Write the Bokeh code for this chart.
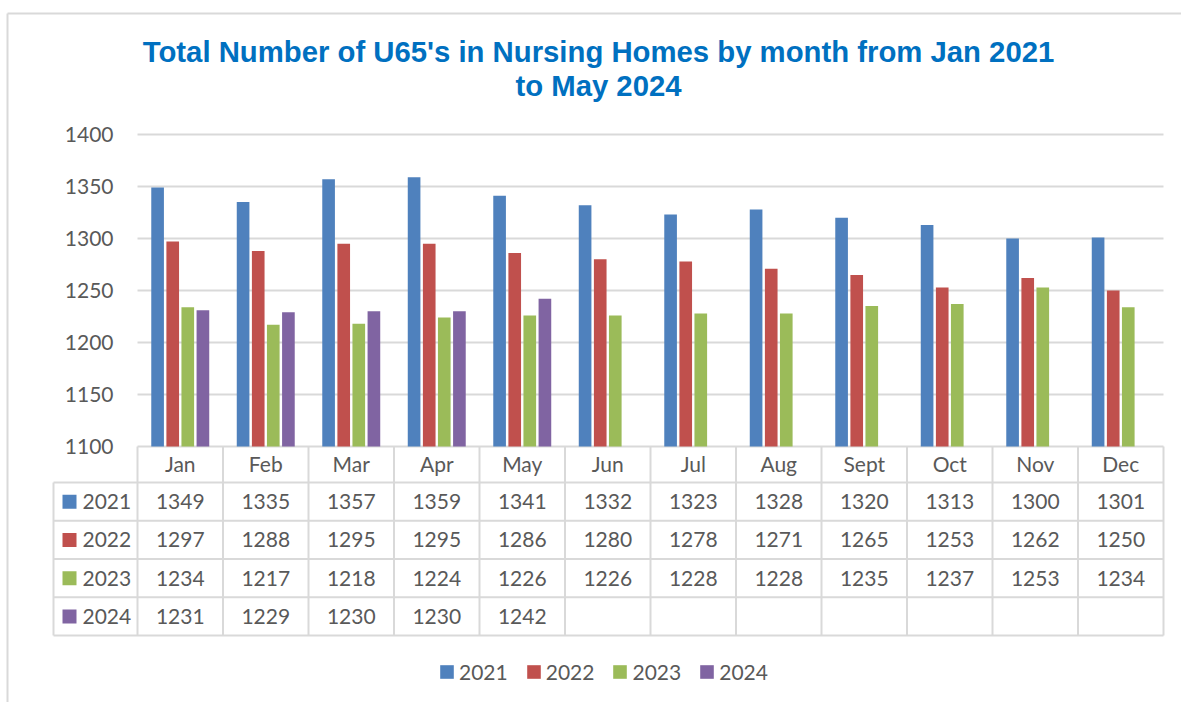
from bokeh.plotting import figure
from bokeh.models import Range1d, ColumnDataSource, Legend, LegendItem
from bokeh.embed import file_html
from bokeh.resources import INLINE
from bokeh.core.properties import value

# ---------------- data ----------------
months = ["Jan", "Feb", "Mar", "Apr", "May", "Jun", "Jul", "Aug", "Sept", "Oct", "Nov", "Dec"]
years = ["2021", "2022", "2023", "2024"]
v2021 = [1349, 1335, 1357, 1359, 1341, 1332, 1323, 1328, 1320, 1313, 1300, 1301]
v2022 = [1297, 1288, 1295, 1295, 1286, 1280, 1278, 1271, 1265, 1253, 1262, 1250]
v2023 = [1234, 1217, 1218, 1224, 1226, 1226, 1228, 1228, 1235, 1237, 1253, 1234]
v2024 = [1231, 1229, 1230, 1230, 1242]
y_ticks = [1100, 1150, 1200, 1250, 1300, 1350, 1400]
title_text = "Total Number of U65's in Nursing Homes by month from Jan 2021\nto May 2024"

series = [v2021, v2022, v2023, v2024]
colors = ["#4F81BD", "#C0504D", "#9BBB59", "#8064A2"]

# ---------------- layout constants (pixels) ----------------
W, H = 1181, 702
PLOT_L, PLOT_R = 137, 1163
PLOT_T, PLOT_B = 134, 446
n = len(months)
CAT_W = (PLOT_R - PLOT_L) / n
PX_PER_UNIT = (PLOT_B - PLOT_T) / (y_ticks[-1] - y_ticks[0])
FONT = "Lato"
FS = "21px"
TXT = "#595959"
LINE = "#D9D9D9"

p = figure(width=W, height=H,
           x_range=Range1d(-PLOT_L / CAT_W, n + (W - PLOT_R) / CAT_W),
           y_range=Range1d(y_ticks[0] - (H - PLOT_B) / PX_PER_UNIT,
                           y_ticks[-1] + PLOT_T / PX_PER_UNIT),
           title=None, x_axis_location=None, y_axis_location=None,
           output_backend="svg", toolbar_location=None, min_border=0)
p.extra_x_ranges = {"px": Range1d(0, W)}
p.extra_y_ranges = {"px": Range1d(H, 0)}
p.outline_line_color = None
p.background_fill_color = "#FFFFFF"
p.border_fill_color = "#FFFFFF"
p.xgrid.visible = False
p.ygrid.visible = False

# outer chart border
p.segment(x0=[7, 7], y0=[13, 13], x1=[W, 7], y1=[13, H], x_range_name="px",
          y_range_name="px", line_color=LINE, line_width=2)

# title
p.text(x=[598] * 2, y=[51, 85], text=title_text.split("\n"), x_range_name="px",
       y_range_name="px", text_align="center", text_baseline="middle",
       text_font=value("Liberation Sans"), text_font_size="29.3px",
       text_font_style="bold", text_color="#0070C0")

# value grid lines and tick labels
p.segment(x0=[0] * len(y_ticks), y0=y_ticks, x1=[n] * len(y_ticks), y1=y_ticks,
          line_color=LINE, line_width=2)
p.text(x=[113] * len(y_ticks), y=y_ticks, text=[str(t) for t in y_ticks],
       x_range_name="px", text_align="right", text_baseline="middle",
       text_font=value(FONT), text_font_size=FS, text_color=TXT)

# bars
offsets = [-0.265, -0.088, 0.088, 0.265]
for vals, c, off in zip(series, colors, offsets):
    src = ColumnDataSource(dict(x=[i + 0.5 + off for i in range(len(vals))], value=vals))
    p.vbar(x="x", top="value", bottom=y_ticks[0], width=0.148, fill_color=c,
           line_color=None, source=src)

# ---------------- data table ----------------
TABLE_T = PLOT_B
HEAD_H = 36
ROW_H = 38.25
left_x = (53 - PLOT_L) / CAT_W
row_edges = [TABLE_T + HEAD_H + ROW_H * k for k in range(len(years) + 1)]
row_mid = [TABLE_T + HEAD_H + ROW_H * (k + 0.5) for k in range(len(years))]

p.segment(x0=[left_x] * len(row_edges), y0=row_edges, x1=[n] * len(row_edges),
          y1=row_edges, y_range_name="px", line_color=LINE, line_width=2)
p.segment(x0=list(range(n + 1)) + [left_x], y0=[TABLE_T] * (n + 1) + [row_edges[0]],
          x1=list(range(n + 1)) + [left_x], y1=[row_edges[-1]] * (n + 2),
          y_range_name="px", line_color=LINE, line_width=2)

text_kw = dict(text_font=value(FONT), text_font_size=FS, text_color=TXT,
               text_baseline="middle", y_range_name="px")
p.text(x=[i + 0.5 for i in range(n)], y=[TABLE_T + HEAD_H / 2 - 1] * n, text=months,
       text_align="center", **text_kw)

legend_items = []
sq_x = (69 - PLOT_L) / CAT_W
lab_x = (82 - PLOT_L) / CAT_W
for k, (yr, vals, c) in enumerate(zip(years, series, colors)):
    p.text(x=[i + 0.5 for i in range(len(vals))], y=[row_mid[k]] * len(vals),
           text=[str(v) for v in vals], text_align="center", **text_kw)
    r = p.rect(x=[sq_x], y=[row_mid[k]], width=14, height=14, width_units="screen",
               height_units="screen", fill_color=c, line_color=None, y_range_name="px")
    p.text(x=[lab_x], y=[row_mid[k]], text=[yr], text_align="left", **text_kw)
    legend_items.append(LegendItem(label=yr, renderers=[r]))

legend = Legend(items=legend_items, orientation="horizontal", location=(438, 18),
                glyph_width=17, glyph_height=17, label_standoff=4, spacing=17,
                padding=0, margin=0, border_line_color=None, background_fill_alpha=0,
                label_text_font=FONT, label_text_font_size=FS, label_text_color=TXT)
p.add_layout(legend)

open("out.html", "w").write(file_html(p, INLINE))
